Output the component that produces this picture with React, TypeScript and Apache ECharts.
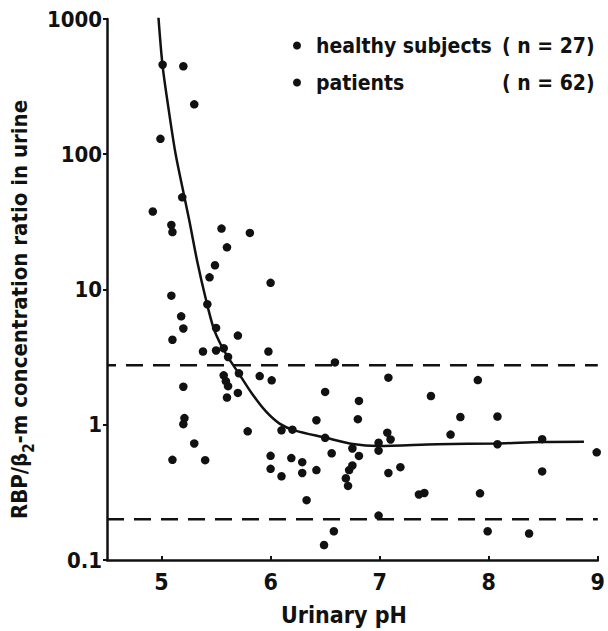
import React, { useEffect, useRef } from "react";
import * as echarts from "echarts";

const X_TICKS = [5, 6, 7, 8, 9];
const X_MIN = 4.5;
const X_MAX = 9;
const Y_MIN = 0.1;
const Y_MAX = 1000;

const healthyLabel = "healthy subjects";
const healthyN = "( n = 27)";
const patientsLabel = "patients";
const patientsN = "( n = 62)";

const patients: [number, number][] = [
  [5.01, 459], [5.2, 447], [5.3, 234], [4.99, 130], [5.19, 48], [4.92, 37.7],
  [5.09, 30], [5.1, 26.6], [5.55, 28.2], [5.81, 26.2], [5.6, 20.5], [5.49, 15.1],
  [5.44, 12.3], [6.0, 11.2], [5.09, 9.0], [5.42, 7.78], [5.18, 6.33], [5.2, 5.15],
  [5.5, 5.2], [5.7, 4.56], [5.1, 4.25], [5.38, 3.48], [5.5, 3.54], [5.57, 3.68],
  [5.61, 3.17], [5.98, 3.48], [5.57, 2.32], [5.71, 2.4], [5.9, 2.29], [6.01, 2.13],
  [5.59, 2.1], [5.61, 1.93], [5.2, 1.91], [5.7, 1.72], [5.6, 1.59], [5.21, 1.12],
  [5.2, 1.01], [5.79, 0.894], [6.1, 0.909], [6.2, 0.92], [5.3, 0.727], [5.1, 0.55],
  [5.4, 0.547], [6.0, 0.589], [6.0, 0.472], [6.1, 0.416], [6.19, 0.567], [6.29, 0.529],
  [6.29, 0.44], [6.33, 0.277], [6.59, 2.89], [6.99, 0.213], [6.58, 0.163], [6.49, 0.129],
  [8.08, 0.718], [8.49, 0.782], [8.99, 0.625], [8.49, 0.452], [7.92, 0.311], [7.99, 0.163],
  [8.37, 0.157],
];

const healthy: [number, number][] = [
  [7.08, 2.23], [6.5, 1.75], [6.81, 1.5], [7.47, 1.63], [6.42, 1.08], [6.8, 1.1],
  [6.5, 0.8], [7.07, 0.874], [7.1, 0.778], [6.99, 0.736], [6.75, 0.668], [6.99, 0.643],
  [6.56, 0.615], [6.81, 0.588], [6.42, 0.462], [6.75, 0.5], [6.72, 0.462], [6.69, 0.402],
  [6.71, 0.353], [7.08, 0.44], [7.19, 0.486], [7.36, 0.305], [7.41, 0.313], [7.9, 2.14],
  [7.74, 1.14], [8.08, 1.15], [7.65, 0.846],
];

const fitCurve: [number, number][] = [
  [4.968, 1130], [5.009, 456], [5.064, 218], [5.127, 102.5], [5.191, 57], [5.255, 32.2],
  [5.327, 16.2], [5.405, 8.57], [5.477, 5.18], [5.545, 3.89], [5.618, 3.08], [5.709, 2.39],
  [5.827, 1.71], [5.955, 1.26], [6.082, 1.02], [6.227, 0.904], [6.5, 0.804], [6.755, 0.721],
  [6.982, 0.697], [7.527, 0.718], [8.082, 0.727], [8.49, 0.745], [8.873, 0.748],
];

const UPPER_LIMIT = 2.75;
const LOWER_LIMIT = 0.2;

const FONT = "'Liberation Sans Narrow', 'DejaVu Sans Condensed', sans-serif";
const INK = "#111";

export default function App() {
  const ref = useRef<HTMLDivElement>(null);

  useEffect(() => {
    document.body.style.margin = "0";
    if (!ref.current) return;
    const chart = echarts.init(ref.current, undefined, { renderer: "svg" });
    const option: any = {
      animation: false,
      backgroundColor: "#fff",
      grid: { left: 107, right: 6, top: 19, bottom: 63, containLabel: false },
      legend: {
        data: [healthyLabel, patientsLabel],
        orient: "vertical",
        left: 288,
        top: 30,
        itemGap: 16,
        icon: "circle",
        itemWidth: 8,
        itemHeight: 8,
        formatter: (name: string) =>
          name === healthyLabel
            ? `{a|${healthyLabel}}{b|${healthyN}}`
            : `{a|${patientsLabel}}{b|${patientsN}}`,
        textStyle: {
          fontFamily: FONT,
          color: INK,
          rich: {
            a: { fontFamily: FONT, fontSize: 21, fontWeight: "bold", color: INK, width: 186, padding: [0, 0, 0, 10], lineHeight: 26 },
            b: { fontFamily: FONT, fontSize: 21, fontWeight: "bold", color: INK, lineHeight: 26 },
          },
        },
      },
      xAxis: {
        type: "value",
        min: X_MIN,
        max: X_MAX,
        interval: 0.5,
        name: "Urinary pH",
        nameLocation: "middle",
        nameGap: 43,
        nameTextStyle: { fontFamily: FONT, fontSize: 23, fontWeight: "bold", color: INK, padding: [0, 17, 0, 0] },
        axisLine: { onZero: false, lineStyle: { color: INK, width: 2.5 } },
        axisTick: { show: true, inside: true, length: 4, customValues: X_TICKS, lineStyle: { color: INK, width: 2 } },
        axisLabel: { customValues: X_TICKS, margin: 10, fontFamily: FONT, fontSize: 23, fontWeight: "bold", color: INK },
        splitLine: { show: false },
      },
      yAxis: {
        type: "log",
        logBase: 10,
        min: Y_MIN,
        max: Y_MAX,
        name: "{a|RBP/β}{s|2}{a|-m concentration ratio in urine}",
        nameLocation: "middle",
        nameGap: 72,
        nameTextStyle: {
          fontFamily: FONT,
          color: INK,
          padding: [0, 40, 0, 0],
          rich: {
            a: { fontFamily: FONT, fontSize: 22, fontWeight: "bold", color: INK, lineHeight: 30, verticalAlign: "bottom" },
            s: { fontFamily: FONT, fontSize: 15, fontWeight: "bold", color: INK, lineHeight: 30, verticalAlign: "bottom", padding: [0, 0, -6, 0] },
          },
        },
        axisLine: { show: true, lineStyle: { color: INK, width: 2.5 } },
        axisTick: { show: true, length: 4, lineStyle: { color: INK, width: 2 } },
        minorTick: { show: false },
        axisLabel: {
          margin: 5,
          fontFamily: FONT,
          fontSize: 22,
          fontWeight: "bold",
          color: INK,
          formatter: (v: number) => String(v),
        },
        splitLine: { show: false },
      },
      series: [
        {
          name: "upper limit",
          type: "line",
          data: [[X_MIN, UPPER_LIMIT], [X_MAX, UPPER_LIMIT]],
          symbol: "none",
          silent: true,
          lineStyle: { color: INK, width: 2.5, type: [17, 10], dashOffset: 8 },
          z: 1,
        },
        {
          name: "lower limit",
          type: "line",
          data: [[X_MIN, LOWER_LIMIT], [X_MAX, LOWER_LIMIT]],
          symbol: "none",
          silent: true,
          lineStyle: { color: INK, width: 2.5, type: [17, 10] },
          z: 1,
        },
        {
          name: "fit",
          type: "line",
          data: fitCurve,
          symbol: "none",
          smooth: 0.3,
          silent: true,
          lineStyle: { color: INK, width: 2.5 },
          z: 2,
        },
        {
          name: healthyLabel,
          type: "scatter",
          data: healthy,
          symbol: "circle",
          symbolSize: 8.5,
          itemStyle: { color: INK, opacity: 1 },
          z: 3,
        },
        {
          name: patientsLabel,
          type: "scatter",
          data: patients,
          symbol: "circle",
          symbolSize: 8.5,
          itemStyle: { color: INK, opacity: 1 },
          z: 3,
        },
      ],
    };
    chart.setOption(option);
    return () => chart.dispose();
  }, []);

  return (
    <div
      ref={ref}
      style={{ position: "absolute", left: 0, top: 0, width: 608, height: 631, background: "#fff" }}
    />
  );
}
